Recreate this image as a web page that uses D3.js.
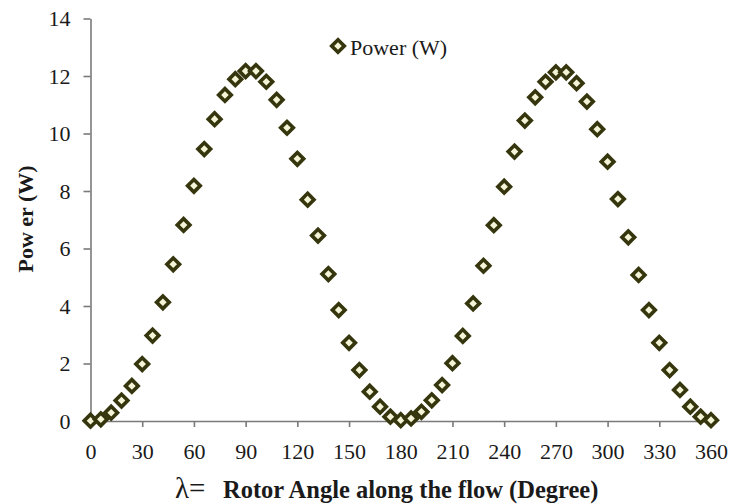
<!DOCTYPE html>
<html>
<head>
<meta charset="utf-8">
<script src="https://cdn.jsdelivr.net/npm/d3@7/dist/d3.min.js"></script>
<style>
  body { margin: 0; background: #fff; }
  svg { display: block; }
</style>
</head>
<body>
<svg id="chart" width="733" height="504"></svg>
<script>
// Rotor angle (degrees) and measured power (W)
const angles = [
  0, 6, 12, 18, 24, 30, 36, 42, 48, 54, 60, 66, 72, 78, 84, 90,
  96, 102, 108, 114, 120, 126, 132, 138, 144, 150, 156, 162, 168, 174, 180,
  186, 192, 198, 204, 210, 216, 222, 228, 234, 240, 246, 252, 258, 264, 270,
  276, 282, 288, 294, 300, 306, 312, 318, 324, 330, 336, 342, 348, 354, 360
];
const power = [
  0.01, 0.06, 0.29, 0.71, 1.22, 1.98, 2.97, 4.13, 5.45, 6.82, 8.18, 9.46, 10.50, 11.34, 11.89, 12.17,
  12.17, 11.80, 11.17, 10.20, 9.12, 7.70, 6.45, 5.11, 3.86, 2.72, 1.77, 1.02, 0.50, 0.15, 0.03,
  0.09, 0.32, 0.72, 1.25, 2.01, 2.96, 4.09, 5.40, 6.81, 8.15, 9.37, 10.45, 11.26, 11.80, 12.13,
  12.13, 11.75, 11.11, 10.15, 9.02, 7.72, 6.39, 5.08, 3.86, 2.72, 1.77, 1.08, 0.50, 0.15, 0.03
];
const xTicks = [0, 30, 60, 90, 120, 150, 180, 210, 240, 270, 300, 330, 360];
const yTicks = [0, 2, 4, 6, 8, 10, 12, 14];
const seriesName = "Power (W)";

const serif = '"Liberation Serif", "Times New Roman", serif';
const markerStroke = "#36360e";
const markerFill = "#f4f4d6";

const svg = d3.select("#chart");

const x = d3.scaleLinear().domain([0, 360]).range([90.5, 711]);
const y = d3.scaleLinear().domain([0, 14]).range([421, 18.5]);

// Axes
const xAxis = svg.append("g")
  .attr("transform", `translate(0,${y(0)})`)
  .call(d3.axisBottom(x).tickValues(xTicks).tickSize(6).tickSizeOuter(0).tickPadding(16));
const yAxis = svg.append("g")
  .attr("transform", `translate(${x(0)},0)`)
  .call(d3.axisLeft(y).tickValues(yTicks).tickSize(7).tickSizeOuter(0).tickPadding(13));

[xAxis, yAxis].forEach(g => {
  g.select(".domain").attr("stroke", "#7a7a7a").attr("stroke-width", 1.6);
  g.selectAll(".tick line").attr("stroke", "#7a7a7a").attr("stroke-width", 1.6);
  g.selectAll(".tick text")
    .attr("fill", "#1a1a1a")
    .style("font-size", "22px")
    .style("font-family", serif);
});

// Diamond marker: square rotated by 45 degrees
const diamond = d3.symbol().type(d3.symbolSquare).size(80);

svg.append("g")
  .selectAll("path")
  .data(angles.map((a, i) => ({ a, p: power[i] })))
  .join("path")
  .attr("d", diamond)
  .attr("transform", d => `translate(${x(d.a)},${y(d.p)}) rotate(45)`)
  .attr("fill", markerFill)
  .attr("stroke", markerStroke)
  .attr("stroke-width", 3.6);

// Legend
const legend = svg.append("g").attr("transform", "translate(338,46)");
legend.append("path")
  .attr("d", diamond)
  .attr("transform", "rotate(45)")
  .attr("fill", markerFill)
  .attr("stroke", markerStroke)
  .attr("stroke-width", 3.6);
legend.append("text")
  .attr("x", 12)
  .attr("y", 9)
  .style("font-family", serif)
  .style("font-size", "22px")
  .attr("fill", "#1a1a1a")
  .text(seriesName);

// X axis title
const xTitle = svg.append("text")
  .attr("x", 175)
  .attr("y", 498)
  .style("font-family", serif)
  .attr("fill", "#1a1a1a");
xTitle.append("tspan").style("font-size", "29px").text("λ=");
xTitle.append("tspan").attr("x", 223).style("font-size", "24.5px").style("font-weight", "bold")
  .text("Rotor Angle along the flow (Degree)");

// Y axis title
svg.append("text")
  .attr("transform", "translate(33,219) rotate(-90)")
  .attr("text-anchor", "middle")
  .style("font-family", serif)
  .style("font-size", "22px")
  .style("font-weight", "bold")
  .attr("fill", "#1a1a1a")
  .text("Pow er (W)");
</script>
</body>
</html>
